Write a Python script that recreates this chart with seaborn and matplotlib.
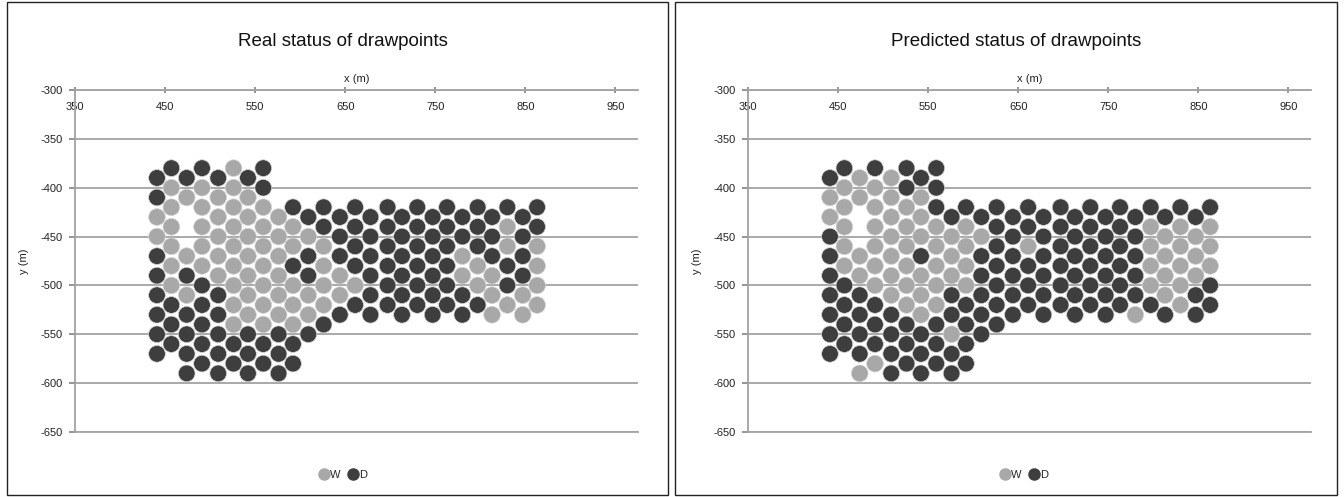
import matplotlib
matplotlib.use("Agg")
import matplotlib.pyplot as plt
import seaborn as sns
import pandas as pd
from matplotlib.lines import Line2D
from matplotlib.patches import Rectangle

# ---------------- data ----------------
col_x = [441, 457, 474, 491, 509, 526, 542, 559, 576, 592, 609, 626, 644,
         661, 678, 697, 713, 730, 747, 763, 780, 797, 813, 830, 847, 863]

col_y = [
    [-390, -410, -430, -450, -470, -490, -510, -530, -550, -570],
    [-380, -400, -420, -440, -460, -480, -500, -520, -540, -560],
    [-390, -410, -470, -490, -510, -530, -550, -570, -590],
    [-380, -400, -420, -440, -460, -480, -500, -520, -540, -560, -580],
    [-390, -410, -430, -450, -470, -490, -510, -530, -550, -570, -590],
    [-380, -400, -420, -440, -460, -480, -500, -520, -540, -560, -580],
    [-390, -410, -430, -450, -470, -490, -510, -530, -550, -570, -590],
    [-380, -400, -420, -440, -460, -480, -500, -520, -540, -560, -580],
    [-430, -450, -470, -490, -510, -530, -550, -570, -590],
    [-420, -440, -460, -480, -500, -520, -540, -560, -580],
    [-430, -450, -470, -490, -510, -530, -550],
    [-420, -440, -460, -480, -500, -520, -540],
    [-430, -450, -470, -490, -510, -530],
    [-420, -440, -460, -480, -500, -520],
    [-430, -450, -470, -490, -510, -530],
    [-420, -440, -460, -480, -500, -520],
    [-430, -450, -470, -490, -510, -530],
    [-420, -440, -460, -480, -500, -520],
    [-430, -450, -470, -490, -510, -530],
    [-420, -440, -460, -480, -500, -520],
    [-430, -450, -470, -490, -510, -530],
    [-420, -440, -460, -480, -500, -520],
    [-430, -450, -470, -490, -510, -530],
    [-420, -440, -460, -480, -500, -520],
    [-430, -450, -470, -490, -510, -530],
    [-420, -440, -460, -480, -500, -520],
]

# status of each drawpoint, top to bottom within a column (W = wet, D = dry)
real_status = [
    "DDWWDDDDDD", "DWWWWWWDDD", "DWWDWDDDD", "DWWWWWDDDDD", "DWWWWWDDDDD",
    "WWWWWWWWWDD", "DWWWWWWWDDD", "DDWWWWWWWDD", "WWWWWWDDD", "DWWDWWWDD",
    "DWDDWWD", "DDWWWWD", "DDDWWD", "DDDDWD", "DDDDDD", "DDDDDD", "DDDDDD",
    "DDDDDD", "DDDDDD", "DDDDDD", "DDWWDD", "DDDWWD", "DDDWWW", "DWWDDW",
    "DDDDWW", "DDWWWW",
]
pred_status = [
    "DWWDDDDDDD", "DWWWWWDDDD", "WWWWDDDDW", "DWWWWWWDDDW", "WWWWWWWDDDD",
    "DDWWWWWWDDD", "DWWWDWWWDDD", "DDDWWWWWDDD", "DWWWDDWDD", "DWWWWDDDD",
    "DWDDDDD", "DDDDDDD", "DDDDDD", "DDWDDD", "DDDDDD", "DDDDDD", "DDDDDD",
    "DDDDDD", "DDDDDD", "DDDDDD", "DDDDDW", "DWWWWD", "DWWWWD", "DWWWWW",
    "DWWWDD", "DWWWDD",
]

titles = ["Real status of drawpoints", "Predicted status of drawpoints"]
x_ticks = [350, 450, 550, 650, 750, 850, 950]
y_ticks = [-300, -350, -400, -450, -500, -550, -600, -650]
classes = ["W", "D"]
palette = {"W": "#a8a8a8", "D": "#3e3e3e"}


def make_frame(status_cols):
    rows = []
    for x, ys, st in zip(col_x, col_y, status_cols):
        for y, s in zip(ys, st):
            rows.append({"x": x, "y": y, "status": s})
    df = pd.DataFrame(rows)
    df["order"] = df["status"].map({"W": 0, "D": 1})
    return df.sort_values("order", kind="stable")


# ---------------- figure ----------------
sns.set_theme(style="white")
plt.rcParams["font.family"] = ["Liberation Sans", "DejaVu Sans"]

W, H = 1344, 497
fig = plt.figure(figsize=(W / 100, H / 100), dpi=100)
fig.patch.set_facecolor("white")

ax_left_px = [75, 748]
title_cx = [343, 1016]
legend_cx = [0.476, 0.49]
grid_col = "#a3a3a3"

for k, status in enumerate([real_status, pred_status]):
    ax = fig.add_axes([ax_left_px[k] / W, 1 - 432 / H, 563 / W, 342 / H])
    df = make_frame(status)
    sns.scatterplot(data=df, x="x", y="y", hue="status", hue_order=classes,
                    palette=palette, s=145, linewidth=0.5, edgecolor="#d6d6d6",
                    legend=False, ax=ax, zorder=3)
    ax.set_xlim(350, 975)
    ax.set_ylim(-650, -300)
    ax.set_xticks(x_ticks)
    ax.set_yticks(y_ticks)
    ax.set_yticklabels([str(v) for v in y_ticks])
    ax.yaxis.grid(True, color=grid_col, lw=1.3)
    ax.xaxis.grid(False)
    ax.set_axisbelow(True)
    ax.spines["right"].set_visible(False)
    for side in ["top", "left", "bottom"]:
        ax.spines[side].set_color(grid_col)
        ax.spines[side].set_linewidth(1.3)
    ax.tick_params(axis="x", top=True, bottom=False, labeltop=True,
                   labelbottom=False, direction="inout", length=4,
                   color="#888888", pad=-18, labelsize=8, labelcolor="#222222")
    ax.tick_params(axis="y", left=True, direction="out", length=4,
                   color="#888888", pad=5, labelsize=8, labelcolor="#222222")
    ax.xaxis.set_label_position("top")
    ax.set_xlabel("x (m)", fontsize=8, labelpad=4, color="#222222")
    ax.set_ylabel("y (m)", fontsize=8, labelpad=8, color="#222222")
    fig.text(title_cx[k] / W, 1 - 42 / H, titles[k], ha="center", va="center",
             fontsize=13.5, color="#111111")
    handles = [Line2D([], [], marker="o", ls="", markersize=8,
                      markerfacecolor=palette[c], markeredgecolor=palette[c])
               for c in classes]
    ax.legend(handles, classes, loc="center", bbox_to_anchor=(legend_cx[k], -0.126),
              ncol=2, frameon=False, handletextpad=0.05, columnspacing=0.6,
              fontsize=8, handlelength=1.0)

# chart borders
for x0, x1 in [(7, 668), (675, 1337)]:
    fig.patches.append(Rectangle((x0 / W, 2 / H), (x1 - x0) / W, (H - 4) / H,
                                 transform=fig.transFigure, fill=False,
                                 ec="#222222", lw=1.0))

fig.savefig("out.png", dpi=100)
